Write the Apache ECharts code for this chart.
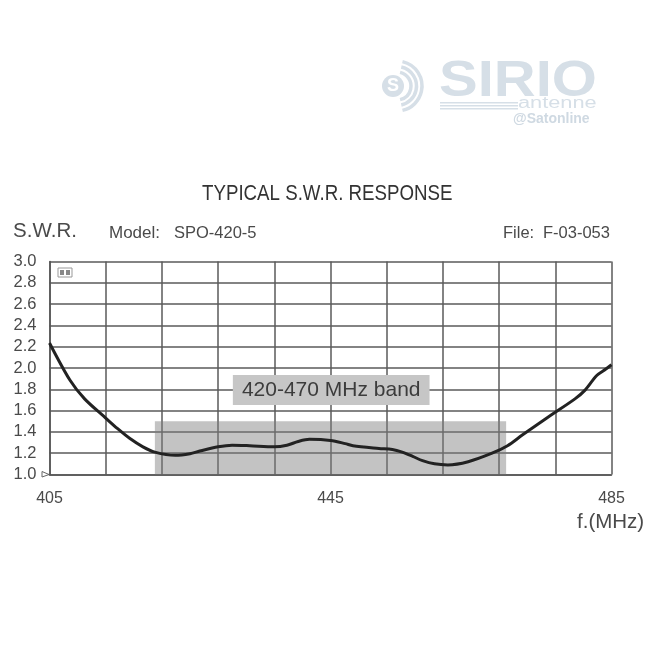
<!DOCTYPE html>
<html>
<head>
<meta charset="utf-8">
<title>Typical S.W.R. response</title>
<script src="https://cdn.jsdelivr.net/npm/echarts@6/dist/echarts.min.js"></script>
<style>
html, body { margin: 0; padding: 0; background: #fff; }
#main { width: 650px; height: 650px; }
</style>
</head>
<body>
<div id="main"></div>
<script>
// curve
const freqMHz = [405, 407.9, 410, 413, 414.7, 416.4, 418.3, 420, 422.9, 425, 426.4, 429, 431, 433.5, 437, 438.8, 440.4, 442, 445, 447.1, 448.2, 451.9, 453.8, 455.2, 456.7, 458.1, 459.8, 461.7, 464.6, 468, 470.2, 472.3, 476, 479.8, 481.2, 482.9, 484.2, 485]
const swr = [2.235, 1.887, 1.71, 1.53, 1.43, 1.34, 1.26, 1.21, 1.18, 1.195, 1.22, 1.26, 1.275, 1.27, 1.26, 1.275, 1.31, 1.33, 1.32, 1.29, 1.27, 1.245, 1.235, 1.21, 1.17, 1.13, 1.10, 1.09, 1.12, 1.20, 1.27, 1.37, 1.54, 1.71, 1.79, 1.93, 1.99, 2.03]
const freqLabels = [405, 445, 485]
const startFreq = 405
const bandRange = [420, 470]
const bandTop = 1.5
const bandText = '420-470 MHz band'

const font = '"Liberation Sans", Arial, sans-serif'
const ink = '#4a4a4a'
const logoColor = '#d6dfe7'

// x axis counts MHz from 405 so that the 8 MHz grid lands on 405, 413, 421...
const curve = freqMHz.map((f, i) => [f - startFreq, swr[i]])

function txt(x, y, text, size, extra, scaleX) {
	return {
		type: 'text',
		x: x,
		y: y,
		scaleX: scaleX || 1,
		silent: true,
		style: Object.assign({
			text: text,
			font: size + 'px ' + font,
			fill: ink,
			textVerticalAlign: 'middle'
		}, extra || {})
	}
}

function logoArc(r, w) {
	return {
		type: 'arc',
		silent: true,
		shape: { cx: 397, cy: 86, r: r, startAngle: -1.35, endAngle: 1.35 },
		style: { stroke: logoColor, fill: null, lineWidth: w }
	}
}

var myChart = echarts.init(document.getElementById('main'))

var option = {
	animation: false,
	backgroundColor: '#fff',
	grid: { left: 49.5, right: 38.5, top: 261.5, bottom: 175.5 },
	xAxis: {
		type: 'value',
		min: 0,
		max: 80,
		interval: 8,
		axisLine: { show: true, lineStyle: { color: '#555', width: 1.5 } },
		axisTick: { show: false },
		splitLine: { show: true, lineStyle: { color: '#5a5a5a', width: 1.5 } },
		axisLabel: {
			color: ink,
			fontFamily: font,
			fontSize: 16,
			margin: 16,
			showMaxLabel: true,
			formatter: v => freqLabels.includes(v + startFreq) ? String(v + startFreq) : ''
		}
	},
	yAxis: {
		type: 'value',
		min: 1,
		max: 3,
		interval: 0.2,
		name: 'S.W.R.',
		nameLocation: 'end',
		nameGap: 20,
		nameTextStyle: { color: ink, fontFamily: font, fontSize: 20.5, padding: [0, 9, 0, 0] },
		axisLine: { show: true, lineStyle: { color: '#555', width: 1.5 } },
		axisTick: { show: false },
		splitLine: { show: true, lineStyle: { color: '#5a5a5a', width: 1.5 } },
		axisLabel: {
			color: ink,
			fontFamily: font,
			fontSize: 16.5,
			margin: 13,
			formatter: v => v.toFixed(1)
		}
	},
	series: [{
		type: 'line',
		name: 'S.W.R.',
		data: curve,
		smooth: 0.3,
		showSymbol: false,
		z: 5,
		lineStyle: { color: '#222', width: 3 },
		markArea: {
			silent: true,
			itemStyle: { color: 'rgba(125,125,125,0.46)' },
			data: [[
				{ xAxis: bandRange[0] - startFreq, yAxis: 1 },
				{ xAxis: bandRange[1] - startFreq, yAxis: bandTop }
			]]
		}
	}, {
		type: 'line',
		name: 'band label',
		data: [],
		z: 6,
		markArea: {
			silent: true,
			itemStyle: { color: '#c6c6c6', opacity: 1 },
			label: {
				show: true,
				position: 'inside',
				color: '#3c3c3c',
				fontFamily: font,
				fontSize: 21,
				formatter: bandText
			},
			data: [[
				{ xAxis: 26.1, yAxis: 1.934 },
				{ xAxis: 54.1, yAxis: 1.652 }
			]]
		}
	}],
	graphic: [
		// logo
		logoArc(25, 3.5),
		logoArc(19.5, 3.5),
		logoArc(14, 3.5),
		{
			type: 'circle',
			silent: true,
			shape: { cx: 393, cy: 86, r: 11 },
			style: { fill: logoColor }
		},
		txt(393, 86, 'S', 18, { fill: '#fff', textAlign: 'center', font: 'bold 18px ' + font }),
		txt(439, 82, 'SIRIO', 50, { fill: logoColor, font: 'bold 50px ' + font }, 1.16),
		{ type: 'rect', silent: true, shape: { x: 440, y: 102, width: 78, height: 1.5 }, style: { fill: logoColor } },
		{ type: 'rect', silent: true, shape: { x: 440, y: 105, width: 78, height: 1.5 }, style: { fill: logoColor } },
		{ type: 'rect', silent: true, shape: { x: 440, y: 108, width: 78, height: 1.5 }, style: { fill: logoColor } },
		txt(518, 104, 'antenne', 16, { fill: logoColor }, 1.36),
		txt(513, 119, '@Satonline', 14, { fill: '#cfd9e2', font: 'bold 14px ' + font }),
		// headings
		txt(202, 194, 'TYPICAL S.W.R. RESPONSE', 21.5, { fill: '#333' }, 0.87),
		txt(109, 233, 'Model:', 17),
		txt(174, 233, 'SPO-420-5', 16.5),
		txt(503, 233, 'File:', 16.5),
		txt(543, 233, 'F-03-053', 16.5),
		txt(577, 522, 'f.(MHz)', 20.5),
		// small marks on the plot
		{ type: 'rect', silent: true, shape: { x: 58, y: 268, width: 14, height: 9 }, style: { fill: null, stroke: '#999', lineWidth: 1 } },
		{ type: 'rect', silent: true, shape: { x: 60, y: 270, width: 4, height: 5 }, style: { fill: '#888' } },
		{ type: 'rect', silent: true, shape: { x: 66, y: 270, width: 4, height: 5 }, style: { fill: '#888' } },
		{
			type: 'polygon',
			silent: true,
			shape: { points: [[42, 471.5], [49, 474.5], [42, 477]] },
			style: { fill: null, stroke: '#666', lineWidth: 1 }
		}
	]
}

myChart.setOption(option)
</script>
</body>
</html>
